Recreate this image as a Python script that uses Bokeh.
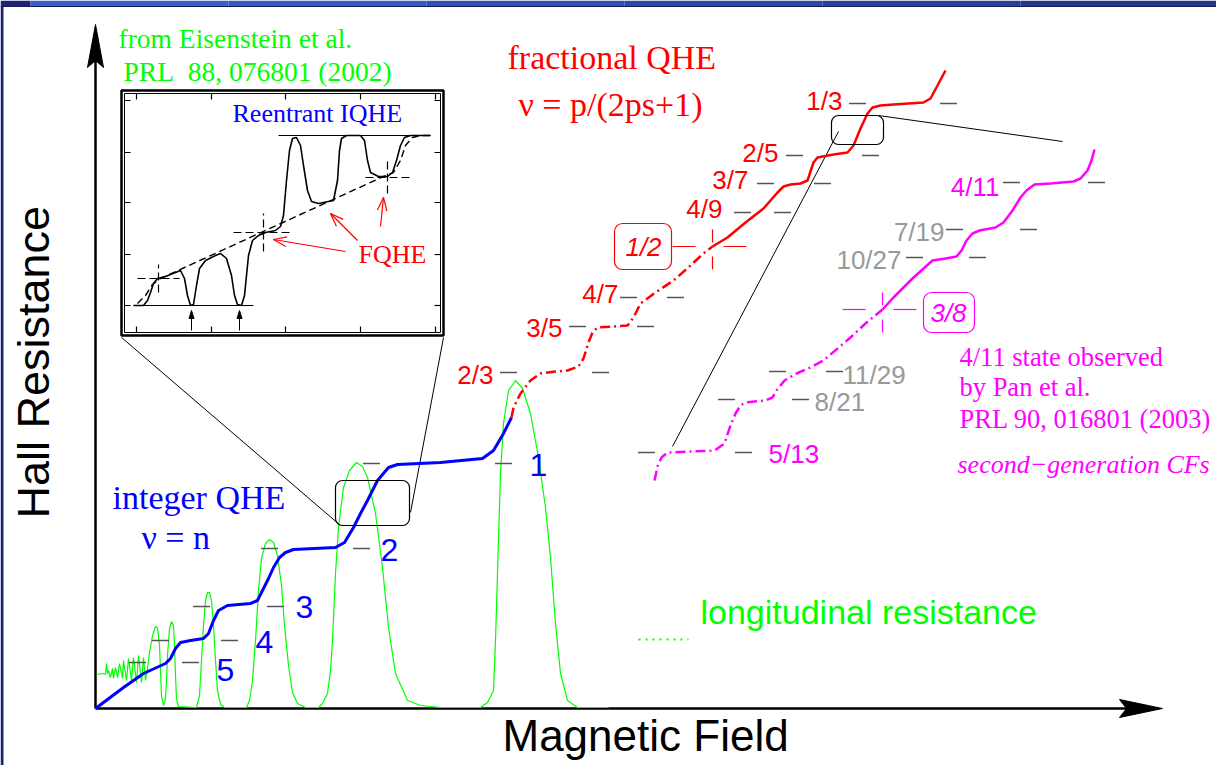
import numpy as np
from bokeh.plotting import figure
from bokeh.models import Range1d, ColumnDataSource, BoxAnnotation
from bokeh.core.properties import value
from bokeh.embed import file_html
from bokeh.resources import INLINE

# ---------------- data (arbitrary units: B = magnetic field, R = resistance) ----------------
# Hall resistance, integer QHE (blue)
hall_B = [0, 28, 48, 70, 75, 80, 85, 95, 108, 113, 118, 123, 132, 155, 162, 168, 173, 178, 184, 190,
          198, 240, 249, 258, 265, 272, 282, 293, 302, 345, 387, 398, 408, 416]
hall_R = [0, 21, 35, 45, 50, 60, 66, 68, 70, 75, 88, 98, 103, 105, 108, 120, 130, 141, 151, 156,
          159, 161, 166, 181, 195, 208, 228, 241, 244, 246, 250, 258, 275, 291]
# Hall resistance, fractional QHE: B > B(nu=1) up to nu=1/2 (red, dash-dot)
fqhe_low_B = [416, 418, 425, 435, 445, 460, 472, 483, 488, 493, 497, 502, 517, 532, 538, 545, 560, 578, 595, 608, 617]
fqhe_low_R = [291, 301, 315, 328, 335, 337, 338, 342, 350, 366, 376, 381, 382, 383, 391, 405, 416, 428, 443, 455, 462]
# Hall resistance, fractional QHE: nu < 1/2 (red, solid)
fqhe_high_B = [617, 632, 650, 668, 682, 688, 695, 705, 712, 718, 722, 738, 752, 758, 765, 772, 777, 785, 798, 828, 835, 842, 850]
fqhe_high_R = [462, 471, 486, 500, 516, 522, 524, 525, 528, 546, 551, 554, 556, 563, 580, 595, 601, 603, 604, 606, 610, 623, 638]
# second-generation composite fermions (magenta)
cf2_low_B = [559, 562, 566, 572, 595, 619, 629, 635, 640, 645, 650, 670, 677, 681, 689, 701, 715, 728, 755, 770, 787]
cf2_low_R = [228, 242, 251, 256, 257, 258, 265, 283, 295, 303, 306, 308, 311, 318, 328, 335, 341, 348, 371, 385, 399]
cf2_high_B = [787, 798, 817, 837, 850, 861, 866, 871, 877, 884, 900, 908, 917, 925, 931, 939, 955, 978, 985, 992, 996, 999]
cf2_high_R = [399, 411, 430, 448, 450, 452, 458, 468, 475, 478, 481, 486, 498, 511, 518, 524, 525, 527, 530, 538, 548, 559]
# longitudinal resistance (green)
rxx_B = [1, 8, 10, 11, 12, 13, 15, 17, 18, 20, 22, 24, 27, 28, 31, 33, 36, 38, 41, 43, 46, 48, 50,
         52, 54, 57, 60, 62, 64, 65, 66, 68, 70, 71, 72, 74, 76, 78, 79, 80, 81, 83,
         101, 104, 106, 108, 110, 112, 114, 116, 118, 120, 122, 125, 129,
         151, 154, 157, 160, 163, 166, 170, 174, 178, 182, 186, 189, 193, 197, 202, 210,
         223, 227, 232, 235, 237, 240, 243, 248, 254, 261, 267, 272, 280, 287, 293, 300, 312, 325, 345,
         385, 392, 398, 400, 402, 405, 408, 413, 420, 427, 435, 443, 450, 455, 460, 465, 472, 482, 513]
rxx_R = [34, 35, 34, 45, 35, 38, 31, 40, 30, 41, 31, 45, 30, 48, 28, 50, 28, 51, 26, 53, 26, 51, 28,
         40, 56, 73, 82, 81, 63, 38, 13, 3, 10, 28, 53, 80, 87, 83, 63, 33, 10, 2,
         1, 13, 48, 83, 108, 116, 116, 108, 83, 48, 18, 4, 1,
         1, 8, 28, 68, 118, 150, 165, 169, 166, 153, 123, 83, 43, 16, 5, 1,
         1, 5, 15, 38, 68, 135, 181, 221, 238, 246, 242, 231, 195, 141, 81, 35, 8, 3, 1,
         1, 6, 18, 68, 135, 235, 285, 318, 328, 320, 295, 251, 201, 151, 85, 35, 8, 1, 1]

# plateaus: labels, plateau heights, B of the left / right marker dashes
int_labels = ["5", "4", "3", "2", "1"]
int_levels = [46, 68, 102, 160, 245]
int_dash_left = [42, 65, 106, 174, 276]
int_dash_right = [95, 134, 180, 266, 408]

frac_labels = ["2/3", "3/5", "4/7", "4/9", "3/7", "2/5", "1/3"]
frac_levels = [336, 382, 411, 496, 525, 553, 605]
frac_dash_left = [413, 482, 533, 647, 670, 699, 762]
frac_dash_right = [505, 550, 580, 687, 727, 775, 853]

half_label, half_level, half_B = "1/2", 462, 617

cf_labels = ["5/13", "8/21", "11/29", "10/27", "7/19", "4/11"]
cf_levels = [256, 309, 337, 451, 479, 526]
cf_dash_left = [551, 631, 682, 819, 859, 916]
cf_dash_right = [648, 705, 739, 882, 933, 1001]
cf_colors = ["#ff00ff", "#999999", "#999999", "#999999", "#999999", "#ff00ff"]

three8_label, three8_level, three8_B = "3/8", 399, 787

# inset (Eisenstein et al.): Rxx trace and Hall (dashed) trace, same arbitrary units
ins_B = [38, 48, 52, 55, 58, 62, 70, 80, 85, 89, 92, 95, 98, 101, 104, 110, 120, 125, 131, 136, 139, 142, 146,
         149, 151, 153, 157, 163, 170, 180, 185, 188, 191, 194, 197, 201, 205, 208, 212, 216, 223, 238,
         242, 244, 246, 251, 265, 269, 272, 275, 283, 292, 297, 301, 305, 309, 315, 335]
ins_R = [403, 403, 408, 416, 425, 430, 432, 436, 438, 430, 413, 403, 404, 423, 440, 448, 453, 455, 450, 433, 413, 404, 403,
         413, 433, 453, 468, 473, 476, 478, 482, 493, 528, 558, 570, 571, 563, 543, 518, 507, 505, 508,
         528, 558, 570, 573, 573, 568, 548, 536, 532, 532, 536, 548, 563, 571, 573, 573]
ins_hall_B = [42, 50, 57, 65, 288, 298, 305, 310, 317, 325, 335]
ins_hall_R = [405, 413, 424, 430, 532, 536, 548, 563, 571, 573, 573]

# ---------------- figure ----------------
p = figure(width=1216, height=765, x_range=Range1d(-95, 1121), y_range=Range1d(-57, 708),
           x_axis_type=None, y_axis_type=None, output_backend="svg", toolbar_location=None,
           min_border=0)
p.grid.visible = False
p.outline_line_color = None
p.background_fill_color = "white"
p.border_fill_color = "white"

SANS = value("Liberation Sans")
SERIF = value("Liberation Serif")
GREEN, BLUE, RED, MAG, GRAY, DASH = "#00ff00", "#0000ff", "#ff0000", "#ff00ff", "#999999", "#555555"
K = 0.33  # baseline correction (fraction of font size)

def up(ys, size):
    return [y + K * size for y in ys]

# slide frame
p.quad(left=-95, right=-65, bottom=702, top=708, color="#1e2378", line_width=0)
grad = ["#3a5fcb", "#3558c2", "#3050b5", "#2c48a8", "#28409a", "#25388c"]
for i, c in enumerate(grad):
    p.quad(left=-65 + i * 198, right=-65 + (i + 1) * 198, bottom=702, top=708, color=c, line_width=0)
p.segment(x0=-95, x1=1121, y0=702, y1=702, color="#151a55", line_width=1)
p.quad(left=-95, right=-92, bottom=-57, top=702, color="#1e2378", line_width=0)

# axes with arrow heads
p.line([0, 0], [0, 648], color="black", line_width=2.5)
p.line([0, 1032], [0, 0], color="black", line_width=2.5)
p.patch([0, -8, 0, 8], [684, 641, 648, 641], color="black")
p.patch([1067, 1024, 1031, 1024], [0, 9, 0, -9], color="black")

p.text(x=[-47 - K * 45], y=[190], text=["Hall Resistance"], angle=np.pi / 2, text_font=SANS,
       text_font_size="45px", text_align="left", text_baseline="alphabetic", text_color="black")
p.text(x=[407], y=up([-42], 44), text=["Magnetic Field"], text_font=SANS, text_font_size="44px",
       text_align="left", text_baseline="alphabetic", text_color="black")

# zoom indicator lines and boxes
p.segment(x0=[26, 348, 743, 783], y0=[371, 371, 577, 593], x1=[245, 315, 577, 967], y1=[183, 196, 262, 567],
          color="black", line_width=1)
for l, r, b, t in [(240, 314, 183, 228), (736, 788, 564, 593)]:
    p.add_layout(BoxAnnotation(left=l, right=r, bottom=b, top=t, fill_alpha=0, line_color="black",
                               line_alpha=1, line_width=1.2, border_radius=7))

# longitudinal resistance
p.line(rxx_B, rxx_R, color=GREEN, line_width=1.2)
p.line([543, 593], [69, 69], color=GREEN, line_width=2, line_dash="2 5")
p.text(x=[605], y=up([85], 34), text=["longitudinal resistance"], text_font=SANS, text_font_size="34px",
       text_color=GREEN, text_baseline="alphabetic")

# plateau marker dashes
def dashes(centers, levels, half=8.5, color=DASH, width=1.5):
    c = np.asarray(centers, float)
    p.segment(x0=c - half, x1=c + half, y0=levels, y1=levels, color=color, line_width=width)

dashes(int_dash_left, int_levels); dashes(int_dash_right, int_levels)
dashes(frac_dash_left, frac_levels); dashes(frac_dash_right, frac_levels)
dashes(cf_dash_left, cf_levels); dashes(cf_dash_right, cf_levels)

# crosses at 1/2 and 3/8
for B, lev, col in [(half_B, half_level, RED), (three8_B, three8_level, MAG)]:
    p.segment(x0=[B - 40, B + 11], x1=[B - 17, B + 34], y0=[lev, lev], y1=[lev, lev], color=col, line_width=1.2)
    p.segment(x0=[B, B], x1=[B, B], y0=[lev + 4, lev - 10], y1=[lev + 17, lev - 23], color=col, line_width=1.2)

# curves
p.line(hall_B, hall_R, color=BLUE, line_width=3)
p.line(fqhe_low_B, fqhe_low_R, color=RED, line_width=2.5, line_dash="10 4 2 4")
p.line(fqhe_high_B, fqhe_high_R, color=RED, line_width=2.5)
p.line(cf2_low_B, cf2_low_R, color=MAG, line_width=2.5, line_dash="10 4 2 4")
p.line(cf2_high_B, cf2_high_R, color=MAG, line_width=2.5)

# plateau labels
p.text(x=[130, 169, 209, 294, 443], y=up([28, 56, 91, 148, 233], 32), text=int_labels, text_font=SANS,
       text_font_size="32px", text_color=BLUE, text_align="center", text_baseline="alphabetic")
p.text(x=[398, 467, 523, 627, 653, 683, 747], y=up([325, 372, 406, 491, 520, 547, 599], 26), text=frac_labels,
       text_font=SANS, text_font_size="26px", text_color=RED, text_align="right", text_baseline="alphabetic")
p.text(x=[548], y=up([453], 26), text=[half_label], text_font=SANS, text_font_size="26px", text_font_style="italic",
       text_color=RED, text_align="center", text_baseline="alphabetic")
p.add_layout(BoxAnnotation(left=519, right=576, bottom=439, top=485, fill_alpha=0, line_color=RED,
                           line_alpha=1, line_width=1.2, border_radius=8))
cf_src = ColumnDataSource(dict(x=[673, 719, 747], y=up([246, 298, 325], 26), t=cf_labels[:3], c=cf_colors[:3]))
p.text(x="x", y="y", text="t", text_color="c", source=cf_src, text_font=SANS, text_font_size="26px",
       text_align="left", text_baseline="alphabetic")
cf_src2 = ColumnDataSource(dict(x=[806, 849, 904], y=up([440, 468, 513], 26), t=cf_labels[3:], c=cf_colors[3:]))
p.text(x="x", y="y", text="t", text_color="c", source=cf_src2, text_font=SANS, text_font_size="26px",
       text_align="right", text_baseline="alphabetic")
p.text(x=[853], y=up([387], 26), text=[three8_label], text_font=SANS, text_font_size="26px", text_font_style="italic",
       text_color=MAG, text_align="center", text_baseline="alphabetic")
p.add_layout(BoxAnnotation(left=828, right=879, bottom=376, top=416, fill_alpha=0, line_color=MAG,
                           line_alpha=1, line_width=1.2, border_radius=8))

# serif annotations
def serif(x, y, s, color, size, style="normal"):
    p.text(x=[x], y=[y + K * size], text=[s], text_font=SERIF, text_font_size=f"{size}px", text_color=color,
           text_align="left", text_baseline="alphabetic", text_font_style=style)

serif(17, 200, "integer QHE", BLUE, 34)
serif(46, 160, "\u03bd = n", BLUE, 34)
serif(412, 640, "fractional QHE", RED, 34)
serif(423, 593, "\u03bd = p/(2ps+1)", RED, 34)
serif(23, 661, "from Eisenstein et al.", GREEN, 27.5)
serif(28, 628, "PRL\u00a0\u00a088, 076801 (2002)", GREEN, 27.5)
serif(864, 343, "4/11 state observed", MAG, 26.5)
serif(864, 313, "by Pan et al.", MAG, 26.5)
serif(864, 281, "PRL 90, 016801 (2003)", MAG, 26.5)
serif(862, 235, "second\u2212generation CFs", MAG, 26, "italic")

# ---------------- inset ----------------
p.quad(left=26, right=348, bottom=373, top=618, fill_color="white", line_color="black", line_width=2.5)
p.quad(left=29, right=345, bottom=376, top=615, fill_alpha=0, line_color="black", line_width=1)
tx = np.array([41, 116, 190, 265, 340])
ty = np.array([608, 556, 506, 454, 403])
p.segment(x0=tx, x1=tx, y0=615, y1=609, color="black", line_width=1.2)
p.segment(x0=tx, x1=tx, y0=376, y1=382, color="black", line_width=1.2)
p.segment(x0=29, x1=35, y0=ty, y1=ty, color="black", line_width=1.2)
p.segment(x0=345, x1=339, y0=ty, y1=ty, color="black", line_width=1.2)
p.segment(x0=[183, 38], x1=[335, 158], y0=[573, 403], y1=[573, 403], color="black", line_width=1)
p.line(ins_hall_B, ins_hall_R, color="black", line_width=1.4, line_dash="7 4")
p.line(ins_B, ins_R, color="black", line_width=1.6)
for cx, cy, hx, vy in [(63, 430, 21, 14), (168, 476, 30, 19), (292, 531, 22, 16)]:
    p.segment(x0=[cx - hx, cx], x1=[cx + hx, cx], y0=[cy, cy - vy], y1=[cy, cy + vy],
              color="black", line_width=1.2, line_dash="8 4")
# small arrows under the inset minima
for ax in [96, 144]:
    p.segment(x0=ax, x1=ax, y0=378, y1=394, color="black", line_width=1)
    p.patch([ax - 2.5, ax, ax + 2.5], [390, 398, 390], color="black")
# red FQHE arrows
for (x0, y0, x1, y1) in [(250, 457, 178, 469), (262, 468, 235, 495), (285, 482, 288, 511)]:
    p.segment(x0=x0, y0=y0, x1=x1, y1=y1, color=RED, line_width=1.2)
    ang = np.arctan2(y0 - y1, x0 - x1)
    for d in (0.35, -0.35):
        p.segment(x0=x1, y0=y1, x1=x1 + 14 * np.cos(ang + d), y1=y1 + 14 * np.sin(ang + d),
                  color=RED, line_width=1.2)
serif(137, 586, "Reentrant IQHE", BLUE, 26)
serif(263, 445, "FQHE", RED, 26)

open("out.html", "w").write(file_html(p, INLINE))
